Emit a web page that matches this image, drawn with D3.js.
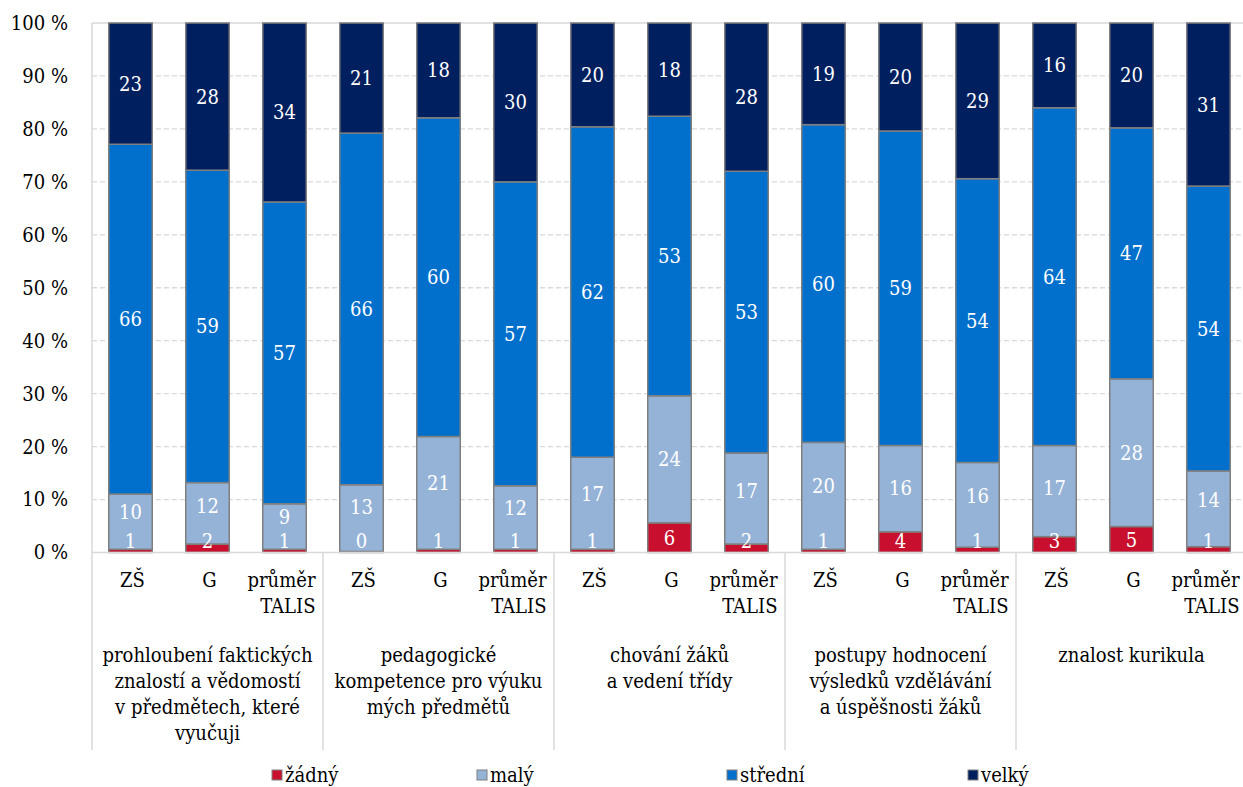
<!DOCTYPE html>
<html>
<head>
<meta charset="utf-8">
<script src="https://cdn.jsdelivr.net/npm/d3@7"></script>
<style>
  html, body { margin: 0; padding: 0; background: #fff; }
</style>
</head>
<body>
<svg id="chart" width="1243" height="787"></svg>
<script>
// ---- data ----
const groupLabels = [
  ["prohloubení faktických", "znalostí a vědomostí", "v předmětech, které", "vyučuji"],
  ["pedagogické", "kompetence pro výuku", "mých předmětů"],
  ["chování žáků", "a vedení třídy"],
  ["postupy hodnocení", "výsledků vzdělávání", "a úspěšnosti žáků"],
  ["znalost kurikula"]
];
const subLabels = [["ZŠ"], ["G"], ["průměr", "TALIS"]];
const seriesNames = ["žádný", "malý", "střední", "velký"];
const zadny   = [0.6, 1.6, 0.6,  0.2, 0.6, 0.6,  0.6, 5.6, 1.6,  0.6, 3.9, 1.0,  3.0, 4.9, 1.1];
const maly    = [10.45, 11.6, 8.6,  12.6, 21.3, 12.0,  17.4, 24.0, 17.2,  20.2, 16.3, 16.0,  17.2, 27.9, 14.3];
const stredni = [66.05, 59.0, 57.0,  66.4, 60.2, 57.4,  62.4, 52.8, 53.2,  60.0, 59.4, 53.6,  63.8, 47.4, 53.8];
const velky   = [22.9, 27.8, 33.8,  20.8, 17.9, 30.0,  19.6, 17.6, 28.0,  19.2, 20.4, 29.4,  16.0, 19.8, 30.8];
const yTicks = [0, 10, 20, 30, 40, 50, 60, 70, 80, 90, 100];
const colors = ["#C8102E", "#95B3D7", "#0070CC", "#001F5F"];
const FONT = "'DejaVu Serif Condensed', 'DejaVu Serif', serif";
const FS = 20;

(function () {
// ---- layout ----
const svg = d3.select("#chart").style("font-family", FONT);
const pLeft = 92, pRight = 1247, pTop = 23, pBottom = 552.5;
const nBars = zadny.length;
const rows = d3.range(nBars).map(i => ({
  i,
  "žádný": zadny[i], "malý": maly[i], "střední": stredni[i], "velký": velky[i]
}));
const stacked = d3.stack().keys(seriesNames)(rows);

const x = d3.scaleBand().domain(d3.range(nBars)).range([pLeft, pRight])
  .paddingInner(0.435).paddingOuter(0.2175);
const y = d3.scaleLinear().domain([0, 100]).range([pBottom, pTop]);
const color = d3.scaleOrdinal().domain(seriesNames).range(colors);

// gridlines
svg.append("g").selectAll("line").data(yTicks.filter(t => t > 0 && t < 100)).join("line")
  .attr("x1", pLeft).attr("x2", pRight).attr("y1", d => y(d)).attr("y2", d => y(d))
  .attr("stroke", "#d9d9d9").attr("stroke-width", 1.3).attr("stroke-dasharray", "5,3");
svg.append("line").attr("x1", pLeft).attr("x2", pRight).attr("y1", y(100)).attr("y2", y(100))
  .attr("stroke", "#d9d9d9").attr("stroke-width", 1.3);

// y axis labels
const yAxis = d3.axisLeft(y).tickValues(yTicks).tickSize(0).tickPadding(24)
  .tickFormat(d => d + " %");
const ya = svg.append("g").attr("transform", `translate(${pLeft},0)`).call(yAxis);
ya.attr("font-family", null).attr("font-size", null);
ya.select(".domain").remove();
ya.selectAll("text").style("font-family", FONT).style("font-size", FS + "px").attr("fill", "#000");

// bars
svg.append("g").selectAll("g").data(stacked).join("g")
  .attr("fill", d => color(d.key))
  .selectAll("rect").data(d => d).join("rect")
  .attr("x", (d, i) => x(i)).attr("width", x.bandwidth())
  .attr("y", d => y(d[1])).attr("height", d => y(d[0]) - y(d[1]))
  .attr("stroke", "#7f7f7f").attr("stroke-width", 1.5);

// data labels (centered, Excel-like clamping)
const half = 11;
const labelG = svg.append("g").attr("fill", "#fff").style("font-size", FS + "px").attr("text-anchor", "middle");
for (let i = 0; i < nBars; i++) {
  let prevTop = Infinity;
  stacked.forEach((s, k) => {
    const d = s[i];
    const segTop = y(d[1]), segBot = y(d[0]);
    let cy;
    if (k === 0) {
      cy = Math.min((segTop + segBot) / 2, pBottom - 11.5);
    } else {
      cy = (segTop + Math.min(segBot, prevTop)) / 2;
    }
    prevTop = cy - half;
    labelG.append("text").style("font-family", FONT).attr("x", x(i) + x.bandwidth() / 2).attr("y", cy).attr("dy", "0.35em")
      .text(d3.format(".0f")(d[1] - d[0]));
  });
}

// axes lines
svg.append("line").attr("x1", pLeft).attr("x2", pRight).attr("y1", pBottom).attr("y2", pBottom)
  .attr("stroke", "#d9d9d9").attr("stroke-width", 1.5);
const gw = x.step() * 3;
const sepX = d3.range(0, groupLabels.length + 1).map(g => pLeft + g * gw);
svg.append("g").selectAll("line").data(sepX).join("line")
  .attr("x1", d => d).attr("x2", d => d)
  .attr("y1", (d, i) => i === 0 ? pTop : pBottom).attr("y2", 750)
  .attr("stroke", "#d9d9d9").attr("stroke-width", 1.5);

// category sub labels
const catG = svg.append("g").style("font-size", FS + "px").attr("fill", "#000");
for (let i = 0; i < nBars; i++) {
  const lines = subLabels[i % 3];
  const multi = lines.length > 1;
  const cx = x(i) + x.bandwidth() / 2 + (multi ? 31 : 2);
  const t = catG.append("text").style("font-family", FONT).attr("x", cx).attr("y", 587)
    .attr("text-anchor", multi ? "end" : "middle");
  lines.forEach((l, j) => t.append("tspan").attr("x", cx).attr("dy", j === 0 ? 0 : 26).text(l));
}
// group labels
groupLabels.forEach((lines, g) => {
  const cx = pLeft + g * gw + gw / 2;
  const t = catG.append("text").style("font-family", FONT).attr("x", cx).attr("y", 662)
    .attr("text-anchor", "middle");
  lines.forEach((l, j) => t.append("tspan").attr("x", cx).attr("dy", j === 0 ? 0 : 26).text(l));
});

// legend
const legX = [272, 477, 727, 968];
const leg = svg.append("g").selectAll("g").data(seriesNames).join("g")
  .attr("transform", (d, i) => `translate(${legX[i]},775)`);
leg.append("rect").attr("x", 0).attr("y", -5).attr("width", 10).attr("height", 10)
  .attr("fill", d => color(d)).attr("stroke", "#7f7f7f").attr("stroke-width", 1);
leg.append("text").style("font-family", FONT).attr("x", 13).attr("y", 0).attr("dy", "0.35em").style("font-size", FS + "px")
  .attr("fill", "#000").text(d => d);
})();
</script>
</body>
</html>
